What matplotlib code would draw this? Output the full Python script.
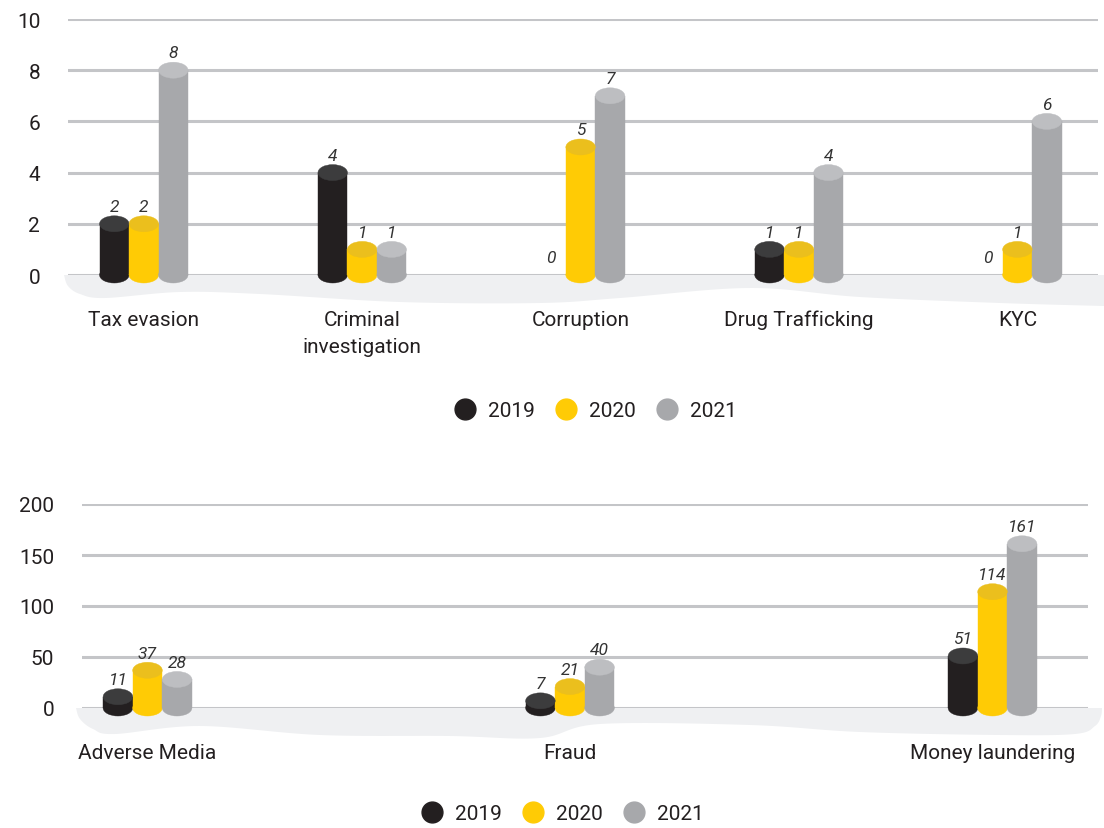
import numpy as np
import matplotlib
matplotlib.use('Agg')
import matplotlib.pyplot as plt
from matplotlib.patches import Rectangle, Ellipse, Polygon
from matplotlib.lines import Line2D

plt.rcParams['font.family'] = ['Roboto', 'DejaVu Sans']

years = ['2019', '2020', '2021']
body_colors = ['#231f20', '#ffcb05', '#a7a8ab']
cap_colors = ['#3c3c3d', '#ebbf1d', '#bdbec1']
grid_color = '#c4c5c8'
floor_color = '#eff0f2'
text_color = '#231f20'

top_categories = ['Tax evasion', 'Criminal\ninvestigation', 'Corruption', 'Drug Trafficking', 'KYC']
top_2019 = [2, 4, 0, 1, 0]
top_2020 = [2, 1, 5, 1, 1]
top_2021 = [8, 1, 7, 4, 6]
top_ticks = [0, 2, 4, 6, 8, 10]

bottom_categories = ['Adverse Media', 'Fraud', 'Money laundering']
bottom_2019 = [11, 7, 51]
bottom_2020 = [37, 21, 114]
bottom_2021 = [28, 40, 161]
bottom_ticks = [0, 50, 100, 150, 200]

W, H = 1104, 829
fig = plt.figure(figsize=(W / 100, H / 100), dpi=100)


def add_axes_px(left, right, top, bottom):
    return fig.add_axes([left / W, 1 - bottom / H, (right - left) / W, (bottom - top) / H])


def smooth_edge(points, n=30):
    # Catmull-Rom through the control points for a soft wavy outline
    p = np.array(points, dtype=float)
    p = np.vstack([p[0], p, p[-1]])
    out = []
    t = np.linspace(0, 1, n, endpoint=False)[:, None]
    for i in range(1, len(p) - 2):
        p0, p1, p2, p3 = p[i - 1], p[i], p[i + 1], p[i + 2]
        seg = 0.5 * ((2 * p1) + (-p0 + p2) * t + (2 * p0 - 5 * p1 + 4 * p2 - p3) * t ** 2
                     + (-p0 + 3 * p1 - 3 * p2 + p3) * t ** 3)
        out.append(seg)
    out.append(p[-1][None, :])
    out = np.vstack(out)
    return out[:, 0], out[:, 1]


def draw_floor(ax, edge_px, left_px, right_px):
    # floor outline given in figure pixels (x) and pixel depth below the baseline
    x0, x1 = ax.get_xlim()
    y0, y1 = ax.get_ylim()
    bbox = ax.get_position()
    px_per_unit = bbox.height * H / (y1 - y0)
    xs, depth = smooth_edge(edge_px)
    xd = x0 + (xs - left_px) / (right_px - left_px) * (x1 - x0)
    yd = -depth / px_per_unit
    verts = list(zip(xd, yd))
    verts.append((xd[-1], 0))
    verts.append((xd[0], 0))
    ax.add_patch(Polygon(verts, closed=True, facecolor=floor_color, edgecolor='none',
                         zorder=0, clip_on=False))


def cylinder(ax, x, value, width, cap_h, body, cap):
    if value <= 0:
        return
    ax.add_patch(Ellipse((x, 0), width, cap_h, facecolor=body, edgecolor=body, lw=0.3,
                         zorder=3, clip_on=False))
    ax.add_patch(Rectangle((x - width / 2, 0), width, value, facecolor=body, edgecolor=body,
                           lw=0.3, zorder=3, clip_on=False))
    ax.add_patch(Ellipse((x, value), width, cap_h, facecolor=cap, edgecolor=cap, lw=0.3,
                         zorder=4, clip_on=False))


def panel(ax, categories, series, ticks, xlim, ylim, bar_w, floor_edge, left_px, right_px):
    ax.set_xlim(*xlim)
    ax.set_ylim(*ylim)
    for s in ax.spines.values():
        s.set_visible(False)
    ax.set_yticks(ticks)
    ax.set_yticklabels([str(t) for t in ticks])
    ax.yaxis.grid(True, color=grid_color, linewidth=2.2, zorder=1)
    ax.set_axisbelow(True)
    pos = np.arange(len(categories))
    ax.set_xticks(pos)
    ax.set_xticklabels(categories, linespacing=1.55)
    ax.tick_params(axis='x', length=0, pad=25, labelsize=15, labelcolor=text_color)
    ax.tick_params(axis='y', length=0, pad=20, labelsize=15, labelcolor=text_color)

    bbox = ax.get_position()
    cap_h = 16 / (bbox.height * H) * (ylim[1] - ylim[0])
    draw_floor(ax, floor_edge, left_px, right_px)
    for k, values in enumerate(series):
        for i, v in enumerate(values):
            x = pos[i] + (k - 1) * bar_w
            cylinder(ax, x, v, bar_w, cap_h, body_colors[k], cap_colors[k])
            ax.annotate(str(v), (x, v), xytext=(0, 7), textcoords='offset points',
                        ha='center', va='bottom', fontsize=12.5, style='italic',
                        color='#333333', zorder=5, annotation_clip=False)


def legend(y_px, x_px):
    handles = [Line2D([], [], linestyle='none', marker='o', markersize=15,
                      markerfacecolor=c, markeredgecolor=c) for c in body_colors]
    fig.legend(handles, years, loc='center', bbox_to_anchor=(x_px / W, 1 - y_px / H),
               ncol=3, frameon=False, fontsize=15, handlelength=1.0, handletextpad=0.6,
               columnspacing=1.0, labelcolor=text_color)


# upper panel
ax1 = add_axes_px(68, 1098, 20, 276)
top_floor = [(64, 0), (68, 11), (80, 19), (105, 23), (180, 17), (260, 19), (400, 27),
             (540, 28), (620, 23), (750, 13), (860, 22), (1000, 28), (1104, 31)]
panel(ax1, top_categories, [top_2019, top_2020, top_2021], top_ticks,
      (-0.347, 4.369), (0, 10), 0.135, top_floor, 68, 1098)
legend(412, 596)

# lower panel
ax2 = add_axes_px(82, 1088, 505, 709)
bottom_floor = [(76, 0), (80, 11), (93, 21), (115, 26), (200, 18), (320, 27), (450, 28),
                (540, 30), (600, 16), (750, 17), (860, 24), (1000, 27), (1075, 26),
                (1095, 18), (1101, 8), (1102, 0)]
panel(ax2, bottom_categories, [bottom_2019, bottom_2020, bottom_2021], bottom_ticks,
      (-0.155, 2.226), (0, 200), 0.070, bottom_floor, 82, 1088)
legend(815, 563)

fig.savefig('out.png', dpi=100)
